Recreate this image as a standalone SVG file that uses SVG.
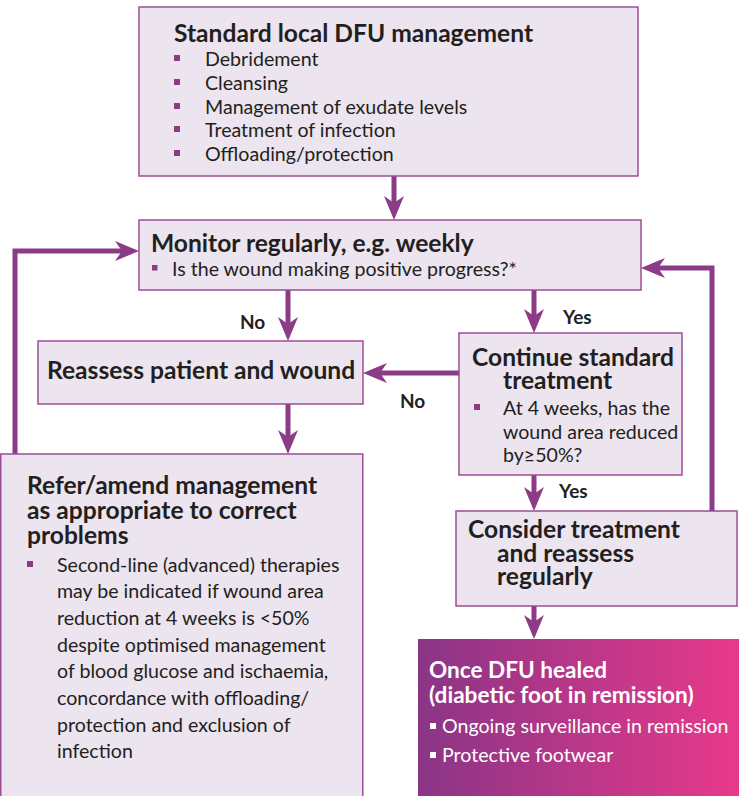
<svg xmlns="http://www.w3.org/2000/svg" width="739" height="796" viewBox="0 0 739 796">
<style>
.box{fill:#ECE4EE;stroke:#9B4D96;stroke-width:1.5}
.t{font-family:Lato,"Liberation Sans",sans-serif;fill:#231F20}
.h{font-weight:bold;font-size:24.6px}
.hg{font-weight:bold;font-size:22.6px}
.b{font-size:19.6px}
.lab{font-weight:bold;font-size:19px}
.w{fill:#ffffff}
.sq{fill:#8C3B87}
.ln{fill:none;stroke:#8C3B87;stroke-width:5;stroke-linejoin:miter}
</style>
<defs>
<marker id="ah" markerUnits="userSpaceOnUse" markerWidth="24" markerHeight="20" refX="14" refY="10" orient="auto" overflow="visible">
<path d="M0,0 L24,10 L0,20 L7,10 z" fill="#8C3B87"/>
</marker>
<linearGradient id="grad" x1="0" y1="0" x2="1" y2="0">
<stop offset="0" stop-color="#8A3586"/>
<stop offset="1" stop-color="#E8398B"/>
</linearGradient>
</defs>
<g id="connectors">
<path class="ln" d="M394,176 L394,210" marker-end="url(#ah)"/>
<path class="ln" d="M288,290 L288,331" marker-end="url(#ah)"/>
<path class="ln" d="M534,290 L534,323" marker-end="url(#ah)"/>
<path class="ln" d="M459,373 L373,373" marker-end="url(#ah)"/>
<path class="ln" d="M288,404 L288,444" marker-end="url(#ah)"/>
<path class="ln" d="M15,454 L15,251 L129,251" marker-end="url(#ah)"/>
<path class="ln" d="M712,511 L712,268 L651,268" marker-end="url(#ah)"/>
<path class="ln" d="M534,475 L534,501" marker-end="url(#ah)"/>
<path class="ln" d="M534,606 L534,629" marker-end="url(#ah)"/>
<text class="t lab" x="240" y="329">No</text>
<text class="t lab" x="563" y="324">Yes</text>
<text class="t lab" x="400" y="408">No</text>
<text class="t lab" x="559" y="498">Yes</text>
</g>
<g id="standard">
<rect class="box" x="139" y="7" width="499" height="169"/>
<text class="t h" x="174" y="42">Standard local DFU management</text>
<rect class="sq" x="174" y="55" width="6" height="6"/>
<rect class="sq" x="174" y="79" width="6" height="6"/>
<rect class="sq" x="174" y="103" width="6" height="6"/>
<rect class="sq" x="174" y="126" width="6" height="6"/>
<rect class="sq" x="174" y="150" width="6" height="6"/>
<text class="t b" x="205" y="66">Debridement</text>
<text class="t b" x="205" y="90">Cleansing</text>
<text class="t b" x="205" y="114">Management of exudate levels</text>
<text class="t b" x="205" y="137">Treatment of infection</text>
<text class="t b" x="205" y="161">Offloading/protection</text>
</g>
<g id="monitor">
<rect class="box" x="139" y="220" width="502" height="70"/>
<text class="t h" x="151" y="252">Monitor regularly, e.g. weekly</text>
<rect class="sq" x="152" y="265" width="5.5" height="5.5"/>
<text class="t b" x="172" y="276">Is the wound making positive progress?*</text>
</g>
<g id="reassess">
<rect class="box" x="38" y="341" width="325" height="63"/>
<text class="t h" x="47" y="379">Reassess patient and wound</text>
</g>
<g id="continue">
<rect class="box" x="459" y="333" width="223" height="142"/>
<text class="t h" x="472" y="366">Continue standard</text>
<text class="t h" x="503" y="389">treatment</text>
<rect class="sq" x="474" y="404" width="6" height="6"/>
<text class="t b" x="503" y="415">At 4 weeks, has the</text>
<text class="t b" x="503" y="439">wound area reduced</text>
<text class="t b" x="503" y="462">by≥50%?</text>
</g>
<g id="refer">
<rect class="box" x="0.75" y="454" width="362" height="345"/>
<text class="t h" x="27" y="494">Refer/amend management</text>
<text class="t h" x="27" y="519">as appropriate to correct</text>
<text class="t h" x="27" y="544">problems</text>
<rect class="sq" x="27" y="561" width="6" height="6"/>
<text class="t b" x="57" y="572">Second-line (advanced) therapies</text>
<text class="t b" x="57" y="598">may be indicated if wound area</text>
<text class="t b" x="57" y="625">reduction at 4 weeks is &lt;50%</text>
<text class="t b" x="57" y="652">despite optimised management</text>
<text class="t b" x="57" y="678">of blood glucose and ischaemia,</text>
<text class="t b" x="57" y="705">concordance with offloading/</text>
<text class="t b" x="57" y="732">protection and exclusion of</text>
<text class="t b" x="57" y="758">infection</text>
</g>
<g id="consider">
<rect class="box" x="456" y="511" width="281" height="95"/>
<text class="t h" x="468" y="538">Consider treatment</text>
<text class="t h" x="497" y="562">and reassess</text>
<text class="t h" x="497" y="585">regularly</text>
</g>
<g id="healed">
<rect x="418" y="639" width="321" height="160" fill="url(#grad)"/>
<text class="t hg w" x="429" y="678">Once DFU healed</text>
<text class="t hg w" x="429" y="703">(diabetic foot in remission)</text>
<rect class="w" x="430" y="723" width="6" height="6"/>
<rect class="w" x="430" y="752" width="6" height="6"/>
<text class="t b w" x="442" y="733">Ongoing surveillance in remission</text>
<text class="t b w" x="442" y="762">Protective footwear</text>
</g>
</svg>
